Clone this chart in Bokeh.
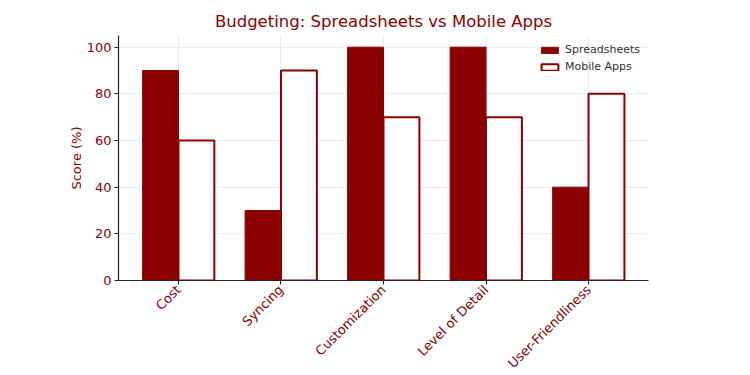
import numpy as np
from bokeh.plotting import figure
from bokeh.models import Range1d, FixedTicker, Legend, LegendItem, ColumnDataSource
from bokeh.embed import file_html
from bokeh.resources import INLINE
from math import pi

categories = ["Cost", "Syncing", "Customization", "Level of Detail", "User-Friendliness"]
spreadsheets = [90, 30, 100, 100, 40]
mobile_apps = [60, 90, 70, 70, 80]
y_ticks = [0, 20, 40, 60, 80, 100]

DARK = "#8B0000"
bar_w = 0.35
idx = np.arange(len(categories))

src = ColumnDataSource(dict(
    xs=idx - bar_w / 2, xm=idx + bar_w / 2,
    s=spreadsheets, m=mobile_apps))

p = figure(width=734, height=359, output_backend="svg", toolbar_location=None,
           x_range=Range1d(-0.585, 4.585), y_range=Range1d(0, 105),
           frame_width=530, frame_height=245,
           min_border_left=118, min_border_right=86, min_border_top=35, min_border_bottom=79)

p.title.text = "Budgeting: Spreadsheets vs Mobile Apps"
p.title.align = "center"
p.title.text_color = DARK
p.title.text_font = "DejaVu Sans"
p.title.text_font_size = "16.5px"
p.title.text_font_style = "normal"

r1 = p.vbar(x="xs", top="s", width=bar_w, source=src, fill_color=DARK, line_color=DARK, line_width=1)
r2 = p.vbar(x="xm", top="m", width=bar_w, source=src, fill_color="white", line_color=DARK, line_width=2)

p.outline_line_color = None
for ax in (p.xaxis[0], p.yaxis[0]):
    ax.axis_line_color = "#222222"
    ax.axis_line_width = 1.2
    ax.major_tick_line_color = "#222222"
    ax.major_tick_out = 4
    ax.major_tick_in = 0
    ax.minor_tick_line_color = None
    ax.major_label_text_color = DARK
    ax.major_label_text_font = "DejaVu Sans"
    ax.major_label_text_font_size = "13px"

p.xaxis.ticker = FixedTicker(ticks=list(idx))
p.xaxis.major_label_overrides = {int(i): c for i, c in zip(idx, categories)}
p.xaxis.major_label_orientation = pi / 4
p.xaxis.major_label_standoff = 3
p.yaxis.ticker = FixedTicker(ticks=y_ticks)
p.yaxis.major_label_standoff = 3
p.yaxis.axis_label = "Score (%)"
p.yaxis.axis_label_standoff = 0
p.yaxis.axis_label_text_color = DARK
p.yaxis.axis_label_text_font = "DejaVu Sans"
p.yaxis.axis_label_text_font_size = "13px"
p.yaxis.axis_label_text_font_style = "normal"

for g in (p.xgrid[0], p.ygrid[0]):
    g.grid_line_color = "#c8c8c8"
    g.grid_line_dash = "2 2"
    g.grid_line_width = 0.8
    g.grid_line_alpha = 0.8
p.xgrid.ticker = FixedTicker(ticks=list(idx))
p.ygrid.ticker = FixedTicker(ticks=y_ticks)

legend = Legend(items=[LegendItem(label="Spreadsheets", renderers=[r1]),
                       LegendItem(label="Mobile Apps", renderers=[r2])],
                location="top_right")
legend.background_fill_alpha = 0
legend.border_line_alpha = 0
legend.label_text_font = "DejaVu Sans"
legend.label_text_font_size = "11px"
legend.label_text_color = "#333333"
legend.glyph_width = 21
legend.glyph_height = 8
legend.spacing = 4
legend.padding = 4
legend.margin = 4
legend.label_height = 12
p.add_layout(legend)

open("out.html", "w").write(file_html(p, INLINE))
